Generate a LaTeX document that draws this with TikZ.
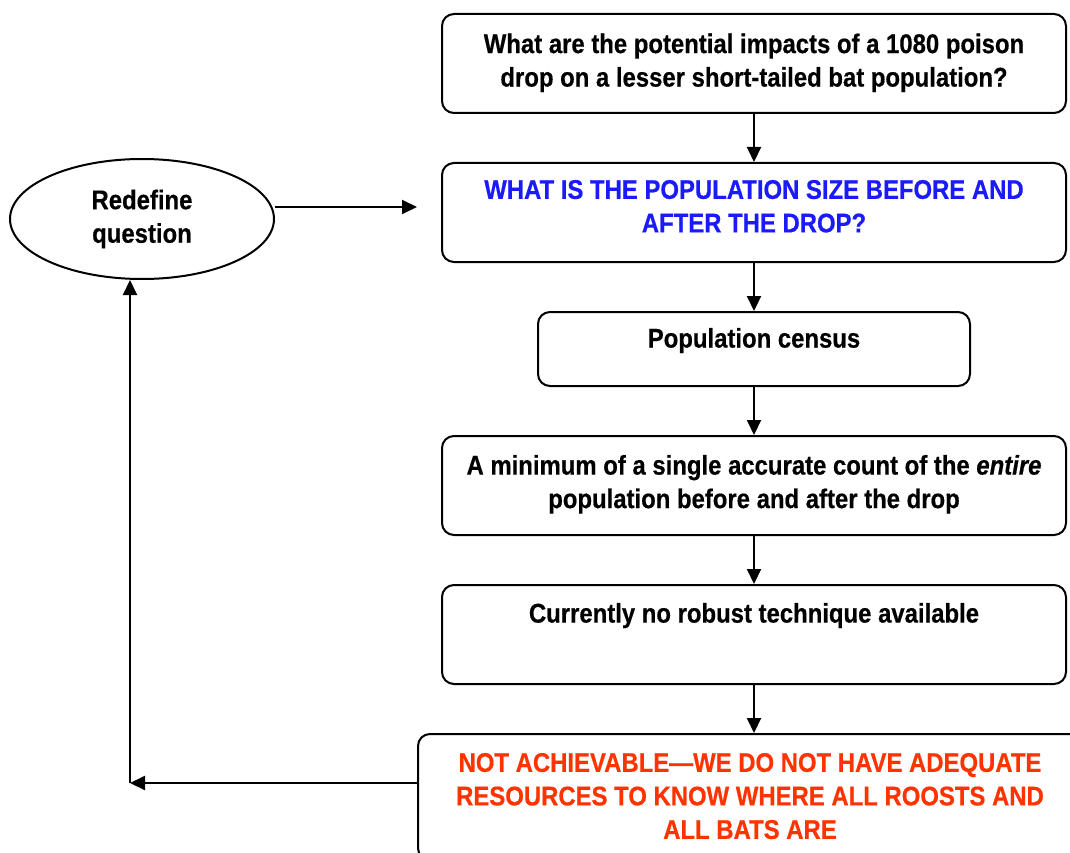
\documentclass[tikz,border=0pt]{standalone}
\usepackage{fontspec}
\setmainfont{Liberation Sans}[FakeStretch=0.885,FakeBold=0.5]
\usetikzlibrary{arrows.meta,shapes.geometric}
\definecolor{qblue}{RGB}{26,26,250}
\definecolor{qred}{RGB}{255,51,0}
% box contents: #1 height, #2 width, #3 gap above the first line, #4 text
\newcommand\stepcontent[4]{\parbox[c][#1][t]{#2}{\centering\vspace*{#3}#4\par}}
\begin{document}
\begin{tikzpicture}[x=1pt,y=-1pt,
  every node/.style={font=\bfseries\fontsize{27}{33.5}\selectfont},
  stepbox/.style={draw, line width=2pt, rounded corners=12pt, inner sep=0pt},
  flow/.style={line width=2pt, -{Triangle[length=15pt,width=14pt]}}]
\useasboundingbox (0,0) rectangle (1070,853);
\clip (0,0) rectangle (1070,853);

% main column of steps
\node[stepbox] (q) at (754,63.5)
  {\stepcontent{99pt}{624pt}{19.5pt}{What are the potential impacts of a 1080 poison\\drop on a lesser short-tailed bat population?}};
\node[stepbox, text=qblue] (size) at (754,212.5)
  {\stepcontent{99pt}{624pt}{17pt}{WHAT IS THE POPULATION SIZE BEFORE AND\\AFTER THE DROP?}};
\node[stepbox] (census) at (754,349)
  {\stepcontent{74pt}{432pt}{16pt}{Population census}};
\node[stepbox] (count) at (754,485.5)
  {\stepcontent{99pt}{624pt}{19pt}{A minimum of a single accurate count of the \textit{entire}\\population before and after the drop}};
\node[stepbox] (tech) at (754,634.5)
  {\stepcontent{99pt}{624pt}{18pt}{Currently no robust technique available}};
\node[stepbox, text=qred] (nope) at (750,797)
  {\stepcontent{126pt}{664pt}{19pt}{NOT ACHIEVABLE---WE DO NOT HAVE ADEQUATE\\RESOURCES TO KNOW WHERE ALL ROOSTS AND\\ALL BATS ARE}};

% feedback loop
\node[draw, ellipse, line width=2pt, minimum width=264pt, minimum height=120pt,
  inner sep=0pt, align=center] (redef) at (142,219) {Redefine\\question};

\coordinate (into) at (417,207);
\coordinate (corner) at (130,783);

\draw[flow] (q) -- (size);
\draw[flow] (size) -- (census);
\draw[flow] (census) -- (count);
\draw[flow] (count) -- (tech);
\draw[flow] (tech) -- (nope.north -| tech.south);
\draw[flow] (nope.west |- corner) -- (corner);
\draw[flow] (corner) -- (corner |- redef.south);
\draw[flow] ([yshift=12pt]redef.east) -- (into);
\end{tikzpicture}
\end{document}
